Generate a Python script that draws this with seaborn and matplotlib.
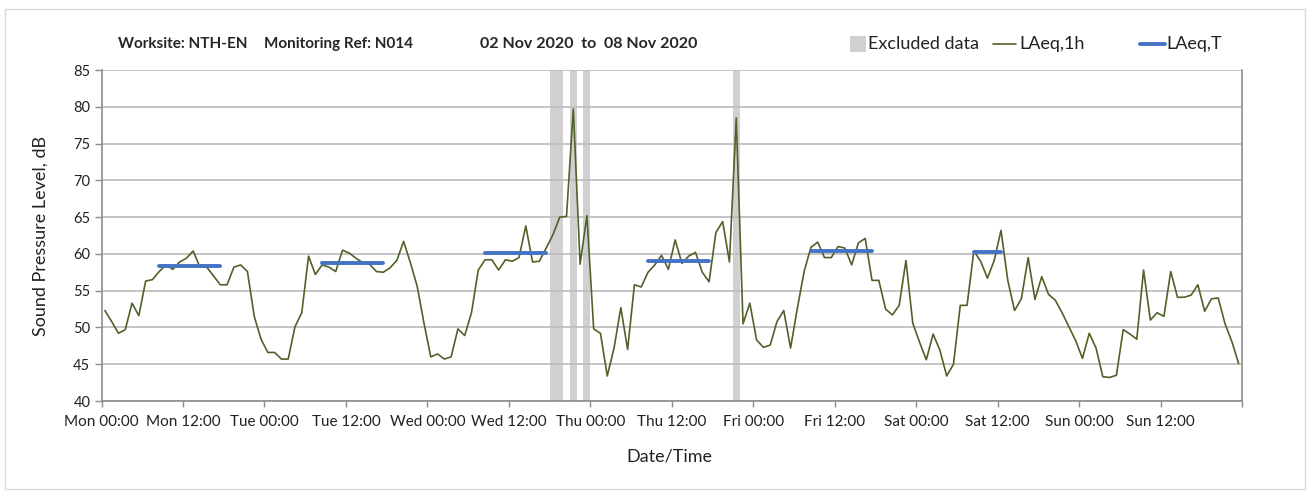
import numpy as np
import pandas as pd
import seaborn as sns
import matplotlib.pyplot as plt
from matplotlib.lines import Line2D
from matplotlib.patches import Rectangle

# LAeq,1h per hour, Mon 00:00 .. Sun 23:00
laeq_1h = [
    52.3, 50.8, 49.2, 49.7, 53.3, 51.6, 56.3, 56.5, 57.6, 58.5, 57.9, 58.9,
    59.4, 60.4, 58.2, 58.2, 57.0, 55.8, 55.8, 58.2, 58.5, 57.6, 51.5, 48.4,
    46.6, 46.6, 45.7, 45.7, 50.1, 52.0, 59.7, 57.2, 58.5, 58.2, 57.6, 60.5,
    60.1, 59.4, 58.8, 58.6, 57.6, 57.5, 58.1, 59.1, 61.7, 58.8, 55.6, 50.6,
    46.0, 46.4, 45.7, 46.0, 49.8, 48.9, 52.0, 57.8, 59.2, 59.2, 57.8, 59.2,
    59.0, 59.5, 63.8, 58.9, 59.0, 60.8, 62.6, 65.0, 65.1, 79.7, 58.6, 65.2,
    49.8, 49.2, 43.4, 47.2, 52.7, 47.0, 55.8, 55.5, 57.5, 58.5, 59.8, 57.9,
    61.9, 58.7, 59.7, 60.2, 57.5, 56.2, 62.9, 64.4, 58.9, 78.5, 50.5, 53.3,
    48.3, 47.3, 47.6, 50.8, 52.3, 47.2, 52.6, 57.6, 60.9, 61.6, 59.5, 59.5,
    61.0, 60.8, 58.5, 61.5, 62.1, 56.4, 56.4, 52.5, 51.7, 53.0, 59.1, 50.6,
    48.0, 45.6, 49.1, 46.9, 43.4, 45.0, 53.0, 53.0, 60.4, 59.0, 56.7, 59.1,
    63.2, 56.4, 52.3, 53.9, 59.5, 53.8, 56.9, 54.5, 53.7, 52.0, 50.1, 48.2,
    45.8, 49.2, 47.2, 43.3, 43.2, 43.5, 49.7, 49.1, 48.4, 57.8, 51.0, 52.0,
    51.5, 57.6, 54.1, 54.1, 54.4, 55.8, 52.2, 53.9, 54.0, 50.5, 48.1, 45.1,
]

# LAeq,T over the daytime periods: first hour, last hour, level
period_start = [8, 32, 56, 80, 104, 128]
period_end = [17, 41, 65, 89, 113, 132]
period_level = [58.3, 58.8, 60.1, 59.1, 60.4, 60.3]

# excluded hours (start, end)
excluded_start = [66, 69, 71, 93]
excluded_end = [68, 70, 72, 94]

tick_labels = ["Mon 00:00", "Mon 12:00", "Tue 00:00", "Tue 12:00",
               "Wed 00:00", "Wed 12:00", "Thu 00:00", "Thu 12:00",
               "Fri 00:00", "Fri 12:00", "Sat 00:00", "Sat 12:00",
               "Sun 00:00", "Sun 12:00", ""]

green = "#4f6228"
blue = "#4472c4"
grey = "#d0d0d0"
W, H = 1314, 494

df = pd.DataFrame({"hour": np.arange(len(laeq_1h)) + 0.5, "level": laeq_1h})
rows = []
for k, (s, e, v) in enumerate(zip(period_start, period_end, period_level)):
    rows.append({"hour": s + 0.5, "level": v, "period": k})
    rows.append({"hour": e + 0.5, "level": v, "period": k})
df_t = pd.DataFrame(rows)

sns.set_theme(style="white")
plt.rcParams['font.family'] = ['Lato', 'DejaVu Sans']

fig = plt.figure(figsize=(W / 100, H / 100), dpi=100)
ax = fig.add_axes([101.5 / W, 1 - 401 / H, 1140.5 / W, 331 / H])

for s, e in zip(excluded_start, excluded_end):
    ax.axvspan(s, e, color=grey, lw=0, zorder=0.3)

sns.lineplot(data=df, x="hour", y="level", color=green, lw=1.2, ax=ax, zorder=3)
sns.lineplot(data=df_t, x="hour", y="level", units="period", estimator=None,
             color=blue, lw=2.8, ax=ax, zorder=4)

ax.set_xlim(0, 168)
ax.set_ylim(40, 85)
ax.set_xticks(np.arange(0, 169, 12))
ax.set_xticklabels(tick_labels, fontsize=11, color="#222222")
ax.set_xticks(np.arange(0, 169, 24), minor=True)
ax.set_yticks(np.arange(40, 86, 5))
ax.set_yticklabels([str(v) for v in range(40, 86, 5)], fontsize=10.5, color="#222222")
ax.tick_params(axis="x", which="major", length=4, width=1, color="#8c8c8c", pad=6, bottom=True)
ax.tick_params(axis="x", which="minor", length=0)
ax.tick_params(axis="y", length=5, width=1, color="#8c8c8c", pad=3, left=True)

ax.grid(False)
ax.yaxis.grid(True, color="#bfbfbf", lw=1.3)
ax.xaxis.grid(True, which="minor", color="#dadada", lw=1.2)
ax.set_axisbelow(True)

ax.spines["top"].set_visible(False)
for side in ["left", "bottom", "right"]:
    ax.spines[side].set_color("#8c8c8c")
    ax.spines[side].set_linewidth(1.2)

ax.set_xlabel("Date/Time", fontsize=13, color="#222222")
ax.set_ylabel("Sound Pressure Level, dB", fontsize=13, color="#222222")
ax.xaxis.set_label_coords(0.498, -0.145)
ax.yaxis.set_label_coords(-0.046, 0.5)

# title row
ty = 1 - 44 / H
fig.text(118 / W, ty, "Worksite: NTH-EN", fontsize=11, fontweight="bold", va="center")
fig.text(264 / W, ty, "Monitoring Ref: N014", fontsize=11, fontweight="bold", va="center")
fig.text(589 / W, ty, "02 Nov 2020  to  08 Nov 2020", fontsize=11.5,
         fontweight="bold", va="center", ha="center")

# legend drawn by hand in the title row
fig.add_artist(Rectangle((850 / W, 1 - 52 / H), 16 / W, 16 / H, transform=fig.transFigure,
                         fc=grey, ec="none"))
fig.text(868 / W, ty, "Excluded data", fontsize=13, va="center", color="#222222")
fig.add_artist(Line2D([993 / W, 1016 / W], [ty, ty], transform=fig.transFigure,
                      color=green, lw=1.2))
fig.text(1019 / W, ty, "LAeq,1h", fontsize=13, va="center", color="#222222")
fig.add_artist(Line2D([1140 / W, 1165 / W], [ty, ty], transform=fig.transFigure,
                      color=blue, lw=2.8))
fig.text(1166 / W, ty, "LAeq,T", fontsize=13, va="center", color="#222222")

fig.add_artist(Rectangle((5 / W, 5 / H), 1300 / W, 480 / H,
                         transform=fig.transFigure, fill=False, ec="#d9d9d9", lw=1))

fig.savefig("out.png", dpi=100)
